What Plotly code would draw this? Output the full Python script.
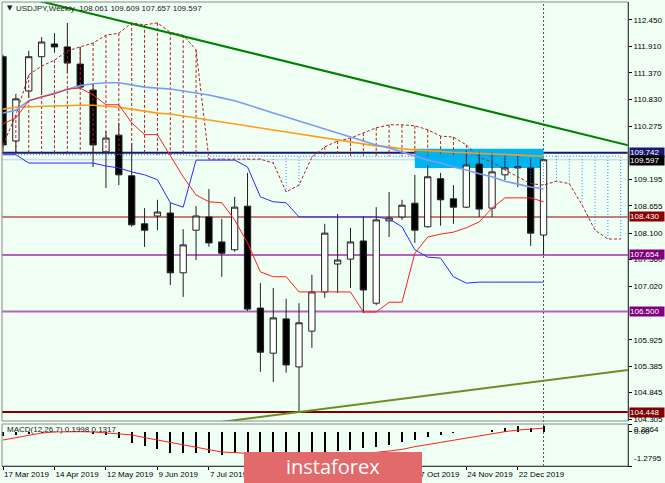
import plotly.graph_objects as go
import pandas as pd

# ---------------- data ----------------
start = pd.Timestamp("2019-03-17")
dates = pd.date_range(start, periods=49, freq="7D")   # weekly bars + future cloud
n = 43

opens  = [111.70, 109.98, 111.00, 111.70, 111.96, 111.90, 111.55, 111.02, 109.76, 110.10,
          109.27, 108.29, 108.45, 108.51, 107.29, 108.16, 108.43, 107.92, 107.76, 108.65,
          106.57, 105.65, 106.35, 105.37, 106.10, 106.90, 107.47, 107.57, 107.94, 106.67,
          108.35, 108.43, 108.71, 108.23, 109.21, 108.80, 108.63, 109.51, 108.61, 109.29,
          109.43, 109.43, 108.061]
highs  = [111.74, 110.94, 111.82, 112.10, 112.18, 112.39, 111.90, 111.14, 110.18, 110.35,
          109.94, 108.61, 108.78, 108.72, 108.18, 108.65, 109.00, 108.39, 108.84, 109.33,
          107.08, 106.98, 106.76, 106.67, 107.25, 108.29, 108.49, 108.21, 108.45, 108.63,
          108.94, 108.78, 109.29, 109.49, 109.33, 109.08, 109.76, 109.76, 109.74, 109.69,
          109.69, 109.63, 109.609]
lows   = [109.78, 109.72, 110.86, 110.92, 111.78, 111.37, 111.04, 109.45, 109.02, 109.08,
          108.23, 107.82, 108.16, 107.04, 106.80, 107.55, 107.82, 107.21, 107.72, 106.51,
          105.27, 105.06, 105.25, 104.45, 105.76, 106.78, 106.88, 106.98, 106.47, 106.63,
          108.02, 108.37, 107.90, 108.21, 108.25, 108.29, 108.61, 108.43, 108.43, 109.18,
          109.04, 107.84, 107.657]
closes = [109.90, 110.84, 111.70, 112.00, 111.90, 111.57, 111.08, 109.90, 110.04, 109.29,
          108.27, 108.16, 108.53, 107.29, 107.86, 108.45, 107.90, 107.69, 108.63, 106.55,
          105.67, 106.37, 105.41, 106.27, 106.90, 108.10, 107.55, 107.92, 106.94, 108.37,
          108.41, 108.67, 108.16, 109.25, 108.78, 108.63, 109.49, 108.59, 109.35, 109.43,
          109.45, 108.10, 109.597]

tenkan = [110.33, 110.45, 110.80, 110.88, 110.94, 111.04, 111.06, 110.92, 110.72, 110.72,
          110.35, 110.11, 110.11, 109.67, 109.25, 108.88, 108.74, 108.72, 108.37, 107.90,
          107.31, 107.21, 107.21, 106.90, 106.90, 106.90, 106.90, 106.90, 106.49, 106.49,
          106.69, 106.69, 107.69, 108.02, 108.08, 108.12, 108.21, 108.33, 108.61, 108.82,
          108.82, 108.82, 108.74]
kijun  = [109.70, 109.70, 109.53, 109.53, 109.53, 109.53, 109.53, 109.53, 109.47, 109.43,
          109.35, 109.29, 109.19, 108.72, 108.63, 109.59, 109.59, 109.59, 109.59, 109.45,
          108.84, 108.74, 108.72, 108.43, 108.43, 108.43, 108.43, 108.43, 108.43, 108.43,
          108.39, 108.23, 107.76, 107.61, 107.59, 107.21, 107.08, 107.10, 107.10, 107.10,
          107.10, 107.10, 107.10]
span_a = [109.90, 110.51, 111.33, 111.51, 111.63, 111.82, 111.90, 111.98, 112.14, 112.18,
          112.39, 112.35, 112.39, 112.20, 112.14, 111.84, 109.61, 109.61, 109.61, 109.61,
          109.61, 109.53, 108.94, 109.08, 109.65, 109.86, 109.98, 110.04, 110.14, 110.25,
          110.31, 110.31, 110.29, 110.21, 110.08, 110.06, 109.90, 109.65, 109.55, 109.39,
          109.25, 109.11, 109.08, 109.16, 109.11, 108.67, 108.16, 107.98, 107.98]
span_b = [109.70] * 15 + [109.67] * 34

ma_blue = [110.55, 110.61, 110.80, 110.88, 110.96, 111.04, 111.11, 111.15, 111.17, 111.17,
           111.13, 111.08, 111.06, 111.04, 111.00, 110.96, 110.92, 110.86, 110.80, 110.72,
           110.63, 110.55, 110.47, 110.39, 110.31, 110.23, 110.14, 110.06, 109.98, 109.90,
           109.84, 109.76, 109.67, 109.59, 109.53, 109.45, 109.39, 109.31, 109.25, 109.16,
           109.10, 109.04, 109.00]
ma_orange = [110.63, 110.67, 110.68, 110.69, 110.70, 110.71, 110.71, 110.71, 110.69, 110.67,
             110.63, 110.59, 110.55, 110.53, 110.49, 110.45, 110.41, 110.37, 110.33, 110.29,
             110.25, 110.21, 110.16, 110.12, 110.08, 110.04, 110.00, 109.96, 109.92, 109.88,
             109.86, 109.82, 109.80, 109.78, 109.76, 109.75, 109.74, 109.73, 109.72, 109.71,
             109.70, 109.69, 109.67]

macd_hist = [-0.16, -0.12, -0.09, -0.05, -0.02, 0.00, -0.03, -0.08, -0.12, -0.24,
             -0.42, -0.53, -0.65, -0.79, -0.79, -0.79, -0.79, -0.87, -0.79, -0.90,
             -1.10, -1.20, -1.28, -1.22, -1.05, -0.85, -0.71, -0.68, -0.61, -0.56,
             -0.50, -0.37, -0.31, -0.19, -0.12, -0.06, -0.02, -0.01, 0.08, 0.15,
             0.20, 0.15, 0.1998]
macd_signal = [-0.31, -0.22, -0.12, -0.05, -0.01, 0.00, 0.00, -0.01, -0.04, -0.07,
               -0.12, -0.22, -0.31, -0.40, -0.50, -0.59, -0.68, -0.76, -0.78, -0.81,
               -0.90, -1.00, -1.06, -1.10, -1.10, -1.05, -0.98, -0.90, -0.83, -0.77,
               -0.72, -0.66, -0.56, -0.49, -0.40, -0.32, -0.24, -0.15, -0.07, 0.00,
               0.06, 0.10, 0.1317]

green_trend_dates = ["2019-03-31", "2020-03-01"]
green_trend_prices = [112.89, 109.80]
olive_trend_dates = ["2019-07-07", "2020-03-01"]
olive_trend_prices = [104.215, 105.357]

zone_dates = ["2019-10-27", "2020-01-05"]
zone_prices = [109.43, 109.82]

price_ticks = [112.45, 111.91, 111.37, 110.83, 110.275, 109.195, 108.655, 108.10,
               107.56, 107.02, 105.925, 105.385, 104.845, 104.305]
price_tick_text = ["112.450", "111.910", "111.370", "110.830", "110.275", "109.195",
                   "108.655", "108.100", "107.560", "107.020", "105.925", "105.385",
                   "104.845", "104.305"]

levels = [109.742, 108.430, 107.654, 106.500, 104.448]
level_line_colors = ["#191970", "#c08078", "#b464be", "#b464be", "#800000"]
level_label_colors = ["#191970", "#8b0000", "#800080", "#800080", "#800000"]
bid_price = 109.597

# date labels that are visible (the others sit under the watermark)
date_tick_idx = [0, 4, 8, 12, 16, 32, 36, 40]
date_tick_text = ["17 Mar 2019", "14 Apr 2019", "12 May 2019", "9 Jun 2019", "7 Jul 2019",
                  "27 Oct 2019", "24 Nov 2019", "22 Dec 2019"]

header_text = "USDJPY,Weekly  108.061 109.609 107.657 109.597"
macd_text = "MACD(12,26,7) 0.1998 0.1317"
macd_scale = [0.2864, -1.2795]

# ---------------- figure ----------------
BG = "#F0FFF4"
FONT = "Liberation Sans, Arial, sans-serif"
W, H = 665, 483
ML, MR, MT, MB = 2, 37, 2, 17
PW, PH = W - ML - MR, H - MT - MB

week = pd.Timedelta(days=7)
x0 = start - week * (1 / 12.87)
x1 = start + week * (625 / 12.87)

fig = go.Figure()

# cloud hatches
bx, by, ux, uy = [], [], [], []
for d, a, b in zip(dates, span_a, span_b):
    if a >= b:
        bx += [d, d, None]; by += [a, b, None]
    else:
        ux += [d, d, None]; uy += [a, b, None]
fig.add_trace(go.Scatter(x=bx, y=by, mode="lines", line=dict(color="#b22222", width=1, dash="3px,2px"),
                         hoverinfo="skip", showlegend=False))
fig.add_trace(go.Scatter(x=ux, y=uy, mode="lines", line=dict(color="#1e90ff", width=1, dash="1px,2px"),
                         hoverinfo="skip", showlegend=False))
fig.add_trace(go.Scatter(x=dates, y=span_b, mode="lines", line=dict(color="#1e90ff", width=1, dash="1px,2px"),
                         hoverinfo="skip", showlegend=False))
fig.add_trace(go.Scatter(x=dates, y=span_a, mode="lines", line=dict(color="#b22222", width=1, dash="3px,2px"),
                         hoverinfo="skip", showlegend=False))

# moving averages
fig.add_trace(go.Scatter(x=dates[:n], y=ma_orange, mode="lines", line=dict(color="#ff9a1a", width=1.6),
                         hoverinfo="skip", showlegend=False))
fig.add_trace(go.Scatter(x=dates[:n], y=ma_blue, mode="lines", line=dict(color="#7b9cf0", width=1.6),
                         hoverinfo="skip", showlegend=False))
# ichimoku lines
fig.add_trace(go.Scatter(x=dates[:n], y=kijun, mode="lines", line=dict(color="#2b2bff", width=1),
                         hoverinfo="skip", showlegend=False))
fig.add_trace(go.Scatter(x=dates[:n], y=tenkan, mode="lines", line=dict(color="#ff2020", width=1),
                         hoverinfo="skip", showlegend=False))

# trend lines
fig.add_trace(go.Scatter(x=pd.to_datetime(green_trend_dates), y=green_trend_prices, mode="lines",
                         line=dict(color="#008000", width=2), hoverinfo="skip", showlegend=False))
fig.add_trace(go.Scatter(x=pd.to_datetime(olive_trend_dates), y=olive_trend_prices, mode="lines",
                         line=dict(color="#6b8e23", width=2), hoverinfo="skip", showlegend=False))

# candles
fig.add_trace(go.Candlestick(
    x=dates[:n], open=opens, high=highs, low=lows, close=closes,
    increasing=dict(fillcolor="white", line=dict(color="#202020", width=1)),
    decreasing=dict(fillcolor="black", line=dict(color="#202020", width=1)),
    whiskerwidth=0, hoverinfo="skip", showlegend=False, xaxis="x", yaxis="y"))

# MACD
fig.add_trace(go.Bar(x=dates[:n], y=macd_hist, marker=dict(color="black", line=dict(width=0)),
                     width=week.total_seconds() * 1000 * (2 / 12.87),
                     hoverinfo="skip", showlegend=False, xaxis="x", yaxis="y2"))
fig.add_trace(go.Scatter(x=dates[:n], y=macd_signal, mode="lines", line=dict(color="#ff2020", width=1),
                         hoverinfo="skip", showlegend=False, xaxis="x", yaxis="y2"))

# ---------------- shapes ----------------
shapes = []
shapes.append(dict(type="rect", xref="x", yref="y", x0=zone_dates[0], x1=zone_dates[1],
                   y0=zone_prices[0], y1=zone_prices[1], fillcolor="#00b4f0", line=dict(width=0),
                   layer="below"))
shapes.append(dict(type="line", xref="x domain", yref="y", x0=0, x1=1, y0=bid_price, y1=bid_price,
                   line=dict(color="#c4cbee", width=1), layer="below"))
for p, c in zip(levels, level_line_colors):
    shapes.append(dict(type="line", xref="x domain", yref="y", x0=0, x1=1, y0=p, y1=p,
                       line=dict(color=c, width=2), layer="below"))
shapes.append(dict(type="line", xref="x", yref="paper", x0=dates[n - 1], x1=dates[n - 1], y0=0, y1=1,
                   line=dict(color="#505050", width=1, dash="2px,2px"), layer="below"))
# frames
shapes.append(dict(type="rect", xref="x domain", yref="y domain", x0=0, x1=1, y0=0, y1=1,
                   line=dict(color="#8a8a8a", width=1), layer="above"))
shapes.append(dict(type="rect", xref="x domain", yref="y2 domain", x0=0, x1=1, y0=0, y1=1,
                   line=dict(color="#8a8a8a", width=1), layer="above"))
# watermark box
shapes.append(dict(type="rect", xref="paper", yref="paper",
                   x0=(244 - ML) / PW, x1=(422 - ML) / PW,
                   y0=-(H - MT - PH + 5) / PH, y1=(MT + PH - 452) / PH,
                   fillcolor="#e26a6a", line=dict(width=0), layer="above"))

annotations = []
for p, c in zip(levels, level_label_colors):
    annotations.append(dict(xref="paper", yref="y", x=1, y=p, xanchor="left", yanchor="middle",
                            xshift=1, text=f"{p:.3f}", showarrow=False, bgcolor=c,
                            font=dict(family=FONT, size=8, color="white"),
                            width=34, height=9, borderpad=0, align="left"))
annotations.append(dict(xref="paper", yref="y", x=1, y=bid_price, xanchor="left", yanchor="middle",
                        xshift=1, yshift=-1, text=f"{bid_price:.3f}", showarrow=False, bgcolor="black",
                        font=dict(family=FONT, size=8, color="white"),
                        width=34, height=9, borderpad=0, align="left"))
# MACD scale labels
annotations.append(dict(xref="paper", yref="y2", x=1, y=macd_scale[0], xanchor="left", yanchor="top",
                        xshift=4, yshift=1, text=f"{macd_scale[0]:.4f}", showarrow=False,
                        font=dict(family=FONT, size=8, color="black")))
annotations.append(dict(xref="paper", yref="y2", x=1, y=0, xanchor="left", yanchor="middle",
                        xshift=4, text="0.00", showarrow=False,
                        font=dict(family=FONT, size=8, color="black")))
annotations.append(dict(xref="paper", yref="y2", x=1, y=macd_scale[1], xanchor="left", yanchor="bottom",
                        xshift=4, yshift=1, text=f"{macd_scale[1]:.4f}", showarrow=False,
                        font=dict(family=FONT, size=8, color="black")))
# header
annotations.append(dict(xref="paper", yref="paper", x=(5 - ML) / PW, y=(MT + PH - 8) / PH,
                        xanchor="left", yanchor="middle", text="▼", showarrow=False,
                        font=dict(family="DejaVu Sans", size=7, color="#202020")))
annotations.append(dict(xref="paper", yref="paper", x=(14 - ML) / PW, y=(MT + PH - 8) / PH,
                        xanchor="left", yanchor="middle", text=header_text, showarrow=False,
                        font=dict(family=FONT, size=8, color="#202020")))
annotations.append(dict(xref="paper", yref="paper", x=(5 - ML) / PW, y=(MT + PH - 429) / PH,
                        xanchor="left", yanchor="middle", text=macd_text, showarrow=False,
                        font=dict(family=FONT, size=8, color="#202020")))
annotations.append(dict(xref="paper", yref="paper", x=(333 - ML) / PW, y=(MT + PH - 466) / PH,
                        xanchor="center", yanchor="middle", text="instaforex", showarrow=False,
                        font=dict(family="Open Sans, sans-serif", size=20, color="white")))

main_bottom = (MT + PH - 421) / PH
macd_top = (MT + PH - 424) / PH

fig.update_layout(
    width=W, height=H, margin=dict(l=ML, r=MR, t=MT, b=MB, autoexpand=False),
    paper_bgcolor=BG, plot_bgcolor=BG, showlegend=False, bargap=0,
    font=dict(family=FONT, size=8, color="black"),
    shapes=shapes, annotations=annotations,
    xaxis=dict(type="date", range=[x0, x1], anchor="y2", showgrid=False, zeroline=False,
               tickvals=[dates[i] for i in date_tick_idx], ticktext=date_tick_text,
               ticks="outside", ticklen=3, tickcolor="black", ticklabelposition="outside right",
               tickangle=0, showline=True, linecolor="black", linewidth=1, automargin=False,
               tickfont=dict(family=FONT, size=8, color="black"),
               rangeslider=dict(visible=False), fixedrange=True),
    yaxis=dict(domain=[main_bottom, 1], range=[104.266, 112.817], side="right", anchor="x",
               showgrid=False, zeroline=False, tickvals=price_ticks, ticktext=price_tick_text,
               ticks="outside", ticklen=3, tickcolor="black", automargin=False,
               showline=True, linecolor="black", linewidth=1,
               tickfont=dict(family=FONT, size=8, color="black"), fixedrange=True),
    yaxis2=dict(domain=[0, macd_top], range=[macd_scale[1], macd_scale[0]], side="right", anchor="x",
                showgrid=False, zeroline=False, tickvals=[macd_scale[0], 0, macd_scale[1]],
                showticklabels=False, ticks="outside", ticklen=3, tickcolor="black", automargin=False,
                showline=True, linecolor="black", linewidth=1, fixedrange=True),
)

fig.write_html("out.html", config={"displayModeBar": False, "staticPlot": True},
               post_script="document.body.style.margin='0';document.body.style.overflow='hidden';")
